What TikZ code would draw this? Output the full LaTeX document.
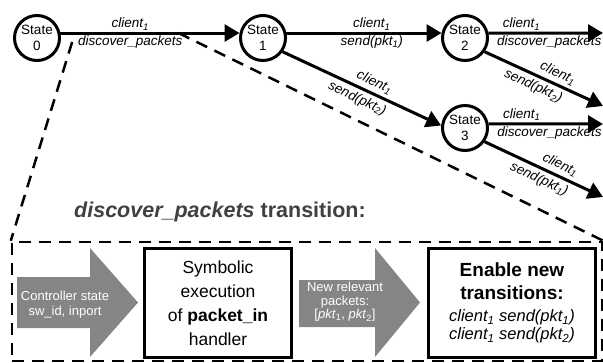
\documentclass[tikz,border=0pt]{standalone}
\usepackage{fontspec}
\setmainfont{Liberation Sans}
\usetikzlibrary{arrows.meta}

\begin{document}
\begin{tikzpicture}[x=1pt,y=-1pt]
    \tikzstyle{state}=[circle,draw=black,line width=3pt,minimum size=45pt,inner sep=0pt,align=center,font=\fontsize{13.5}{15.5}\selectfont]
    \tikzstyle{trans}=[line width=3pt,-{Triangle[length=15pt,width=17pt]}]
    \tikzstyle{lbl}=[font=\fontsize{13.5}{15}\selectfont\itshape,inner sep=1.5pt]
    \tikzstyle{slbl}=[lbl,sloped,inner sep=3.5pt]
    \tikzstyle{cut}=[line width=2.5pt,dash pattern=on 12pt off 8pt]
    \tikzstyle{stepbox}=[draw=black,line width=3pt,align=center,inner sep=0pt,minimum height=109pt]
    \tikzstyle{arrowtext}=[text=white,align=center,inner sep=0pt]
    \useasboundingbox (0,0) rectangle (603,362);

    \node (s0)[state] at (37,38) {State\\0};
    \node (s1)[state] at (263,38) {State\\1};
    \node (s2)[state] at (465,38) {State\\2};
    \node (s3)[state] at (465,128) {State\\3};
    \coordinate (o2) at (603,33);
    \coordinate (o2d) at (603,106);
    \coordinate (o3) at (603,124);
    \coordinate (o3d) at (603,197);

    \draw[trans] (s0.12) -- (s1.168)
        node[lbl,above,pos=.39] {client\textsubscript{1}}
        node (dp)[lbl,below,pos=.39] {discover\_packets};
    \draw[trans] (s1.12) -- (s2.168)
        node[lbl,above,pos=.55] {client\textsubscript{1}}
        node[lbl,below,pos=.55] {send(pkt\textsubscript{1})};
    \draw[trans] (s1.-35) -- (s3.174)
        node[slbl,above,pos=.55] {client\textsubscript{1}}
        node[slbl,below,pos=.5] {send(pkt\textsubscript{2})};
    \draw[trans] (s2.12) -- (o2)
        node[lbl,above right,pos=.1] {client\textsubscript{1}}
        node[lbl,below right,pos=.05] {discover\_packets};
    \draw[trans] (s2.-35) -- (o2d)
        node[slbl,above,pos=.58] {client\textsubscript{1}}
        node[slbl,below,pos=.45] {send(pkt\textsubscript{2})};
    \draw[trans] (s3.10) -- (o3)
        node[lbl,above right,pos=.1] {client\textsubscript{1}}
        node[lbl,below right,pos=.05] {discover\_packets};
    \draw[trans] (s3.-35) -- (o3d)
        node[slbl,above,pos=.6] {client\textsubscript{1}}
        node[slbl,below,pos=.5] {send(pkt\textsubscript{1})};

    % zoom into the discover_packets step
    \node (title)[font=\fontsize{21.5}{25}\selectfont\bfseries,text=black!75] at (220,212) {\textit{discover\_packets} transition:};
    \node (frame)[cut,draw,minimum width=590pt,minimum height=119pt,inner sep=0pt] at (307,301.5) {};
    \draw[cut] ([xshift=-3pt,yshift=-9pt]dp.north west) -- (frame.north west);
    \draw[cut] ([xshift=-7pt]dp.north east) -- (frame.north east);

    \fill[black!48] (17,277) -- (90,277) -- (90,248) -- (138,302.5) -- (90,357) -- (90,328) -- (17,328) -- cycle;
    \node (ctl)[arrowtext,font=\fontsize{13}{15}\selectfont] at (65,305) {Controller state\\sw\_id, inport};
    \node (symb)[stepbox,minimum width=147pt,font=\fontsize{17.5}{24}\selectfont] at (218,303) {Symbolic\\execution\\of \textbf{packet\_in}\\handler};
    \fill[black!48] (299,280) -- (375,280) -- (375,248) -- (420,302.5) -- (375,357) -- (375,327) -- (299,327) -- cycle;
    \node (pkts)[arrowtext,font=\fontsize{13}{13.5}\selectfont] at (345,302) {New relevant\\packets:\\{[}\textit{pkt}\textsubscript{1}, \textit{pkt}\textsubscript{2}{]}};
    \node (enable)[stepbox,minimum width=167pt,font=\fontsize{16.5}{18}\selectfont] at (512,303) {{\fontsize{19}{23}\selectfont\bfseries Enable new}\\[5pt]{\fontsize{19}{23}\selectfont\bfseries transitions:}\\[4pt]{\itshape client\textsubscript{1} send(pkt\textsubscript{1})}\\{\itshape client\textsubscript{1} send(pkt\textsubscript{2})}};
\end{tikzpicture}
\end{document}
